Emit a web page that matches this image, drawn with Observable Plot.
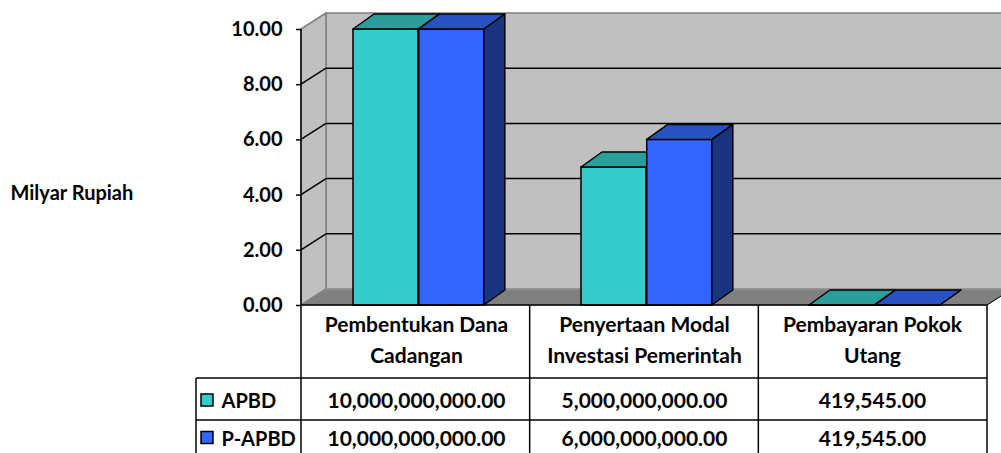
<!DOCTYPE html>
<html>
<head>
<meta charset="utf-8">
<script src="https://cdn.jsdelivr.net/npm/d3@7"></script>
<script src="https://cdn.jsdelivr.net/npm/@observablehq/plot@0.6"></script>
<style>
  html, body { margin: 0; padding: 0; background: #fff; overflow: hidden; }
</style>
</head>
<body>
<div id="chart"></div>
<script>
// Realisasi pembiayaan daerah: APBD vs P-APBD (Rupiah)
const categories = ["Pembentukan Dana Cadangan", "Penyertaan Modal Investasi Pemerintah", "Pembayaran Pokok Utang"];
const categoryLines = ["Pembentukan Dana\nCadangan", "Penyertaan Modal\nInvestasi Pemerintah", "Pembayaran Pokok\nUtang"];
const series = ["APBD", "P-APBD"];
const apbd = [10000000000, 5000000000, 419545];
const papbd = [10000000000, 6000000000, 419545];
const yTicks = [0, 2, 4, 6, 8, 10];
const yLabel = "Milyar Rupiah";

const faceColors = {
  front: ["#33CCCC", "#3366FF"],
  top: ["#299E9A", "#2851C4"],
  side: ["#1F7F7F", "#1B3480"]
};

const W = 1001, H = 453;
const M = {left: 301, right: 14, top: 29, bottom: 148};
const wall = {dx: 25, dy: -16};   // depth of the back wall
const bar = {dx: 21, dy: -15};    // depth of each column
const row = {head: 73, first: 115}; // table row separators below the floor edge
const legendLeft = 196;

const milyar = v => v / 1e9;
const fmt = d3.format(",.2f");
const bandWidth = (W - M.left - M.right) / categories.length;
// horizontal slot of each series inside its category band (fractions of the band)
const slots = [[0.223, 0.5105], [0.5105, 0.798]];

const seriesValues = [apbd, papbd];
const table = series.map((s, i) => categories.map((c, j) => ({series: s, category: c, value: seriesValues[i][j]})));

function poly(g, pts, fill, stroke, sw = 1) {
  g.append("polygon")
    .attr("points", pts.map(p => p.join(",")).join(" "))
    .attr("fill", fill)
    .attr("stroke", stroke)
    .attr("stroke-width", sw)
    .attr("stroke-linejoin", "round");
}

// Walls, floor and gridlines of the 3D box
function walls(index, scales, values, dims) {
  const y = scales.y;
  const x0 = dims.marginLeft, x1 = dims.width - dims.marginRight;
  const yMax = d3.max(yTicks);
  const yb = y(0), yt = y(yMax);
  const g = d3.create("svg:g");
  g.append("rect")
    .attr("x", x0 + wall.dx).attr("y", yt + wall.dy)
    .attr("width", x1 - x0).attr("height", yb - yt)
    .attr("fill", "#C0C0C0").attr("stroke", "#808080").attr("stroke-width", 1.5);
  poly(g, [[x0, yt], [x0 + wall.dx, yt + wall.dy], [x0 + wall.dx, yb + wall.dy], [x0, yb]], "#C0C0C0", "#808080", 1.5);
  poly(g, [[x0, yb], [x1, yb], [x1 + wall.dx, yb + wall.dy], [x0 + wall.dx, yb + wall.dy]], "#808080", "#808080", 1);
  g.append("line")
    .attr("x1", x0 + wall.dx).attr("x2", x1 + wall.dx)
    .attr("y1", yb + wall.dy).attr("y2", yb + wall.dy)
    .attr("stroke", "#A0A0A0").attr("stroke-width", 1);
  for (const t of yTicks) {
    if (t === 0 || t === yMax) continue;
    g.append("line")
      .attr("x1", x0 + wall.dx).attr("x2", x1 + wall.dx)
      .attr("y1", y(t) + wall.dy).attr("y2", y(t) + wall.dy)
      .attr("stroke", "#000").attr("stroke-width", 1.5);
    g.append("line")
      .attr("x1", x0).attr("x2", x0 + wall.dx)
      .attr("y1", y(t)).attr("y2", y(t) + wall.dy)
      .attr("stroke", "#000").attr("stroke-width", 1.5);
  }
  // value axis line
  g.append("line")
    .attr("x1", x0).attr("x2", x0).attr("y1", yt).attr("y2", yb)
    .attr("stroke", "#000").attr("stroke-width", 1.5);
  return g.node();
}

// Grid lines and legend keys of the data table under the plot
function dataTable(index, scales, values, dims) {
  const x0 = dims.marginLeft, x1 = dims.width - dims.marginRight;
  const y0 = dims.height - dims.marginBottom, yEnd = dims.height;
  const g = d3.create("svg:g").attr("stroke", "#000").attr("stroke-width", 1.5);
  const hline = (xa, xb, yy) => g.append("line").attr("x1", xa).attr("x2", xb).attr("y1", yy).attr("y2", yy);
  const vline = (xx, ya, yb) => g.append("line").attr("x1", xx).attr("x2", xx).attr("y1", ya).attr("y2", yb);
  hline(x0, x1, y0);
  hline(legendLeft, x1, y0 + row.head);
  hline(legendLeft, x1, y0 + row.first);
  vline(legendLeft, y0 + row.head, yEnd);
  const step = (x1 - x0) / categories.length;
  for (let i = 0; i <= categories.length; ++i) vline(x0 + i * step, y0, yEnd);
  // floor corner beyond the last column
  g.append("line")
    .attr("x1", x1).attr("x2", x1 + wall.dx).attr("y1", y0).attr("y2", y0 + wall.dy)
    .attr("stroke-width", 1);
  const centers = [y0 + (row.head + row.first) / 2, y0 + row.first + (yEnd - y0 - row.first) / 2];
  series.forEach((s, i) => {
    g.append("rect")
      .attr("x", legendLeft + 5).attr("y", centers[i] - 5)
      .attr("width", 12).attr("height", 12)
      .attr("fill", faceColors.front[i]).attr("stroke-width", 1.5);
  });
  return g.node();
}

// Adds the top and right faces to each column drawn by barY
function extrude(si) {
  return (index, scales, values, dims, context, next) => {
    const g = next(index, scales, values, dims, context);
    const faces = d3.select(g).append("g");
    for (const r of Array.from(g.querySelectorAll("rect"))) {
      const x = +r.getAttribute("x"), y = +r.getAttribute("y");
      const w = +r.getAttribute("width"), h = +r.getAttribute("height");
      poly(faces, [[x + w, y], [x + w + bar.dx, y + bar.dy], [x + w + bar.dx, y + h + bar.dy], [x + w, y + h]], faceColors.side[si], "#000", 1.5);
      poly(faces, [[x, y], [x + w, y], [x + w + bar.dx, y + bar.dy], [x + bar.dx, y + bar.dy]], faceColors.top[si], "#000", 1.5);
    }
    return g;
  };
}

const barMarks = series.map((s, i) => Plot.barY(table[i], {
  x: "category",
  y: d => milyar(d.value),
  fill: faceColors.front[i],
  stroke: "#000",
  strokeWidth: 1.5,
  insetLeft: slots[i][0] * bandWidth,
  insetRight: (1 - slots[i][1]) * bandWidth,
  render: extrude(i)
}));

const rowDy = [102, 140];

const chart = Plot.plot({
  width: W,
  height: H,
  marginLeft: M.left,
  marginRight: M.right,
  marginTop: M.top,
  marginBottom: M.bottom,
  style: {fontFamily: "Lato, 'Open Sans', sans-serif", fontSize: "20px", fontWeight: "bold", color: "#000", background: "#fff"},
  x: {type: "band", domain: categories, padding: 0, axis: null},
  y: {domain: [0, 10]},
  marks: [
    walls,
    Plot.axisY({ticks: yTicks, tickFormat: d3.format(".2f"), tickSize: 5, tickPadding: 14, label: null, stroke: "#000", strokeWidth: 1.5, fontWeight: "bold"}),
    ...barMarks,
    dataTable,
    Plot.text(categories, {x: d => d, text: (d, i) => categoryLines[i], frameAnchor: "bottom", dy: 57, lineHeight: 1.45, fontSize: 21, fontWeight: "bold"}),
    ...series.map((s, i) => Plot.text(categories, {x: d => d, text: (d, j) => fmt(seriesValues[i][j]), frameAnchor: "bottom", dy: rowDy[i], fontSize: 21, fontWeight: "bold"})),
    ...series.map((s, i) => Plot.text([s], {frameAnchor: "bottom-left", textAnchor: "start", dx: -80, dy: rowDy[i], fontWeight: "bold"})),
    Plot.text([yLabel], {frameAnchor: "left", textAnchor: "start", dx: 10 - M.left, dy: 26, fontWeight: "bold"})
  ]
});

document.getElementById("chart").append(chart);
</script>
</body>
</html>
